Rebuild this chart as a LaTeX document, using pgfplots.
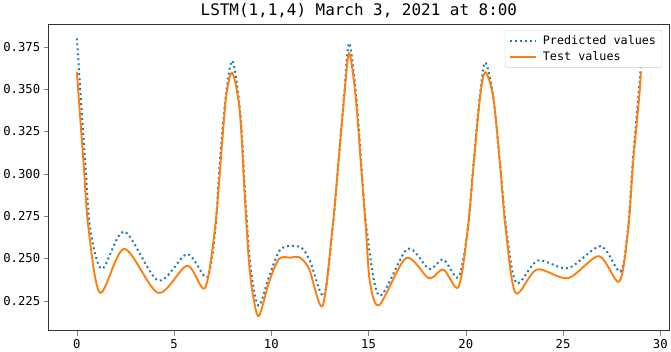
\documentclass[border=0pt]{standalone}
\usepackage{fontspec}
\setmainfont{DejaVu Sans Mono}
\usepackage{pgfplots}
\pgfplotsset{compat=1.18}
\definecolor{mplblue}{HTML}{1F77B4}
\definecolor{mplorange}{HTML}{FF7F0E}

\begin{document}
\begin{tikzpicture}
\begin{axis}[
  width=621bp, height=307bp, scale only axis,
  xmin=-1.45, xmax=30.45, ymin=0.2073, ymax=0.3884,
  xtick={0,5,10,15,20,25,30},
  ytick={0.225,0.250,0.275,0.300,0.325,0.350,0.375},
  scaled y ticks=false,
  yticklabel style={/pgf/number format/.cd, fixed, fixed zerofill, precision=3},
  /pgf/number format/assume math mode=true,
  tick label style={font=\fontsize{12.3}{14}\selectfont},
  tick align=outside, tick pos=left, major tick length=5bp,
  axis line style={line width=0.9bp, black!80},
  title={LSTM(1,1,4) March 3, 2021 at 8:00},
  title style={font=\fontsize{16}{18}\selectfont, yshift=-3bp},
  legend style={at={(0.989,0.98)}, anchor=north east, draw=black!20,
    rounded corners=2bp, font=\fontsize{11.8}{15}\selectfont,
    inner xsep=4bp, inner ysep=3bp, row sep=2bp,
    /tikz/every odd column/.style={column sep=4bp}},
  legend image code/.code={\draw[#1] (0bp,0bp) -- (26bp,0bp);},
  legend cell align=left,
]
\addplot[mplblue, line width=2bp, dash pattern=on 1.9bp off 3.1bp, smooth] coordinates {
  (0,0.380) (0.2,0.345) (0.43,0.3068) (0.69,0.2675) (1.29,0.2439) (2.44,0.2659)
  (4.18,0.2370) (5.67,0.2526) (6.7,0.2390) (7.12,0.2675) (7.35,0.3068)
  (7.66,0.3461) (8,0.3667) (8.4,0.3365) (8.66,0.2871) (8.9,0.2478)
  (9.33,0.2222) (9.9,0.2400) (10.5,0.2557) (11.5,0.2567) (12.0,0.2480)
  (12.7,0.2281) (13.15,0.2675) (13.45,0.3068) (13.74,0.3461) (14,0.3772)
  (14.36,0.3461) (14.62,0.3068) (14.9,0.2675) (15.55,0.2281) (17.0,0.2557)
  (18.1,0.2439) (18.85,0.2494) (19.62,0.2390) (20.1,0.2675) (20.4,0.3068)
  (20.72,0.3461) (21,0.3658) (21.4,0.3461) (21.75,0.3068) (22.08,0.2675)
  (22.6,0.2356) (23.7,0.2488) (25.26,0.2443) (26.93,0.2573) (27.95,0.2423)
  (28.33,0.2675) (28.58,0.3068) (28.88,0.3461) (29,0.3648)
};
\addlegendentry{Predicted values}
\addplot[mplorange, line width=1.9bp, smooth] coordinates {
  (0,0.360) (0.34,0.307) (0.6,0.2675) (1.2,0.2297) (2.44,0.2557)
  (4.18,0.2297) (5.67,0.2458) (6.58,0.2325) (7.1,0.2675) (7.39,0.3068)
  (7.68,0.3461) (8,0.3595) (8.38,0.3365) (8.63,0.2871) (8.85,0.2478)
  (9.06,0.2281) (9.36,0.2160) (9.88,0.2361) (10.4,0.2498) (11.0,0.2505)
  (11.43,0.2508) (11.94,0.2439) (12.63,0.2219) (13.14,0.2675) (13.45,0.3068)
  (13.75,0.3461) (14,0.3713) (14.33,0.3461) (14.6,0.3068) (14.86,0.2675)
  (15.07,0.2361) (15.55,0.2226) (16.93,0.2502) (18.1,0.2384) (18.85,0.2435)
  (19.62,0.2331) (20.1,0.2675) (20.41,0.3068) (20.74,0.3461) (21,0.3599)
  (21.4,0.3461) (21.75,0.3068) (22.05,0.2675) (22.56,0.2297) (23.65,0.2435)
  (25.26,0.2384) (26.84,0.2514) (27.89,0.2364) (28.35,0.2675) (28.6,0.3068)
  (28.92,0.3461) (29,0.3599)
};
\addlegendentry{Test values}
\end{axis}
\end{tikzpicture}
\end{document}
